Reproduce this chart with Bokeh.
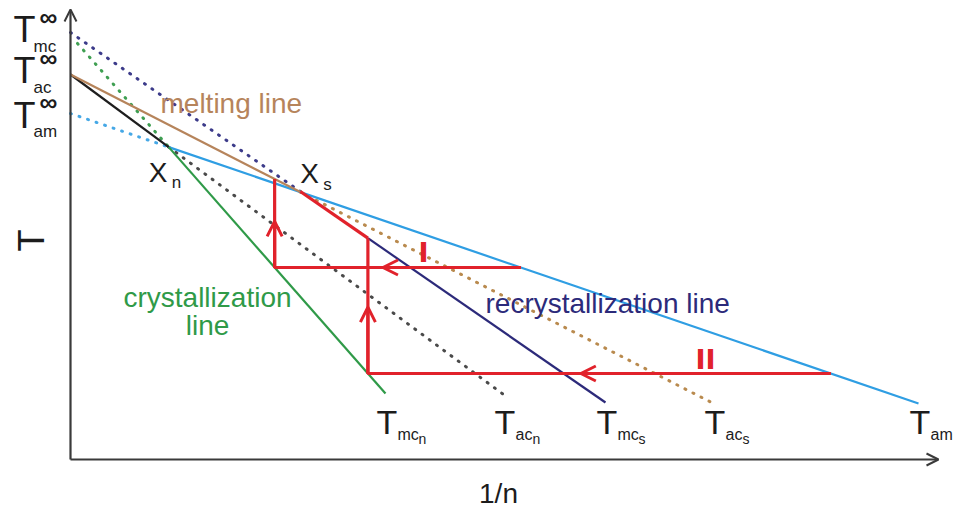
from bokeh.plotting import figure
from bokeh.models import Range1d, Arrow, OpenHead
from bokeh.core.properties import value
from bokeh.embed import file_html
from bokeh.resources import INLINE
import math

# ---------------- data (schematic units: x = 1/n, y = T) ----------------
# lines: T at 1/n = 0, and their end point on the right
line_names = ["am", "ac_n", "ac_s", "mc_s", "mc_n"]
T_at_zero = [346, 385, 385, 427, 424]
x_at_end = [848, 433, 643, 535, 315]
T_at_end = [56, 65, 56, 57, 66]

# infinite-crystal temperatures on the T axis
T_inf_subs = ["mc", "ac", "am"]
T_inf_vals = [427, 385, 346]

# end labels under the lines
end_subs = ["mc", "ac", "mc", "ac", "am"]
end_subsubs = ["n", "n", "s", "s", ""]
end_x = [315, 433, 535, 643, 848]

# isothermal process temperatures (I, II)
proc_names = ["I", "II"]
proc_T = [192, 86]

# ---------------- helpers ----------------
L = {n: (0.0, t0, x1, t1) for n, t0, x1, t1 in zip(line_names, T_at_zero, x_at_end, T_at_end)}


def T_on(name, x):
    x0, y0, x1, y1 = L[name]
    return y0 + (y1 - y0) * (x - x0) / (x1 - x0)


def x_on(name, T):
    x0, y0, x1, y1 = L[name]
    return x0 + (T - y0) * (x1 - x0) / (y1 - y0)


def cross(a, b):
    xa0, ya0, xa1, ya1 = L[a]
    xb0, yb0, xb1, yb1 = L[b]
    sa = (ya1 - ya0) / (xa1 - xa0)
    sb = (yb1 - yb0) / (xb1 - xb0)
    x = (yb0 - ya0) / (sa - sb)
    return x, ya0 + sa * x


Xn = cross("ac_n", "am")
Xs = cross("ac_s", "am")

FONT = value("Liberation Sans")
RED = "#e1222b"
BLUE = "#2f9ee3"
BROWN = "#b6845b"
BLACK = "#1e1e1e"
GREEN = "#2f9a48"
NAVY = "#2c2a7a"

p = figure(width=956, height=512, output_backend="svg", toolbar_location=None,
           x_range=Range1d(-70, 886), y_range=Range1d(-53, 459),
           x_axis_type=None, y_axis_type=None, min_border=0)
p.grid.visible = False
p.outline_line_color = None
p.background_fill_color = "white"
p.border_fill_color = "white"


def seg(xa, xb, name, color, dotted=False, width=2.2):
    xs = [xa, xb]
    ys = [T_on(name, xa), T_on(name, xb)]
    if dotted:
        p.line(xs, ys, line_color=color, line_width=3, line_dash="1 8", line_cap="round")
    else:
        p.line(xs, ys, line_color=color, line_width=width)


# dotted extrapolations
seg(0, Xs[0], "mc_s", "#3c3b8a", dotted=True)
seg(7, Xn[0], "mc_n", "#3f9f52", dotted=True)
seg(0, Xn[0], "am", "#46a8e6", dotted=True)
seg(Xn[0], x_at_end[1], "ac_n", "#4a4a4a", dotted=True)
seg(Xs[0], x_at_end[2], "ac_s", "#b98a4e", dotted=True)

# solid lines
seg(Xn[0], x_at_end[0], "am", BLUE)
seg(0, Xn[0], "ac_n", BLACK)
seg(0, Xs[0], "ac_s", BROWN)
seg(Xn[0], x_at_end[4], "mc_n", GREEN)

# process II geometry
xII_left = x_on("mc_n", proc_T[1])
TII_top = T_on("mc_s", xII_left)
seg(xII_left, x_at_end[3], "mc_s", NAVY)

# process I geometry
xI_right = x_on("am", proc_T[0])
xI_left = x_on("mc_n", proc_T[0])
TI_top = T_on("ac_s", xI_left)
xII_right = x_on("am", proc_T[1])

red_paths_x = [
    [xI_right, xI_left, xI_left],
    [xII_right, xII_left, xII_left],
    [Xs[0], xII_left],
]
red_paths_y = [
    [proc_T[0], proc_T[0], TI_top],
    [proc_T[1], proc_T[1], TII_top],
    [T_on("mc_s", Xs[0]), TII_top],
]
p.multi_line(red_paths_x, red_paths_y, line_color=RED, line_width=3.2)


def red_arrow(xa, ya, xb, yb, f):
    xe = xa + (xb - xa) * f
    ye = ya + (yb - ya) * f
    p.add_layout(Arrow(end=OpenHead(size=15, line_color=RED, line_width=3),
                       x_start=xa, y_start=ya, x_end=xe, y_end=ye,
                       line_color=RED, line_width=3.2))


red_arrow(xI_right, proc_T[0], xI_left, proc_T[0], 0.56)
red_arrow(xI_left, proc_T[0], xI_left, TI_top, 0.52)
red_arrow(xII_right, proc_T[1], xII_left, proc_T[1], 0.54)
red_arrow(xII_left, proc_T[1], xII_left, TII_top, 0.49)

# axes with arrows
AX = "#3a3a3a"
p.add_layout(Arrow(end=OpenHead(size=12, line_color=AX, line_width=2),
                   x_start=0, y_start=0, x_end=0, y_end=450, line_color=AX, line_width=2.2))
p.add_layout(Arrow(end=OpenHead(size=12, line_color=AX, line_width=2),
                   x_start=0, y_start=0, x_end=868, y_end=0, line_color=AX, line_width=2.2))

# ---------------- texts (anchored at their vertical middle) ----------------
TXT = "#1c1c1c"


def txt(x, y, t, size, color=TXT, align="left", bold=False, angle=0.0, font=FONT):
    p.text(x=x, y=y, text=t, text_font=font, text_font_size=size, text_color=color,
           text_align=align, text_baseline="middle", angle=angle,
           text_font_style="bold" if bold else "normal")


# T∞ labels on the T axis (per-row label offsets)
dy_T = [3, 4, -2]
dy_sub = [-14, -13, -18]
dy_inf = [16, 17, 12]
txt([-57] * 3, [v + d for v, d in zip(T_inf_vals, dy_T)], ["T"] * 3, "36px")
txt([-37] * 3, [v + d for v, d in zip(T_inf_vals, dy_sub)], T_inf_subs, "17px")
txt([-31] * 3, [v + d for v, d in zip(T_inf_vals, dy_inf)], ["\u221e"] * 3, "25px", bold=True)

# end labels
sub_w = {"mc": 21, "ac": 17, "am": 21}
tx = [x - 9 for x in end_x]
txt(tx, [38] * 5, ["T"] * 5, "34px")
txt([x + 21 for x in tx], [25] * 5, end_subs, "16px")
txt([x + 21 + sub_w[s] for x, s in zip(tx, end_subs)], [21] * 5, end_subsubs, "14px")

# intersection labels
txt([Xn[0] - 20, Xs[0]], [Xn[1] - 25, Xs[1] + 19], ["X", "X"], "28px")
txt([Xn[0] + 3, Xs[0] + 23], [Xn[1] - 35, Xs[1] + 8], ["n", "s"], "17px")

# line names
txt([90], [356], ["melting line"], "28px", color=BROWN)
txt([137, 137], [162, 134], ["crystallization", "line"], "28px", color=GREEN, align="center")
txt([415], [156], ["recrystallization line"], "28px", color=NAVY)

# process labels
txt([353, 635], [proc_T[0] + 15, proc_T[1] + 14], proc_names, "27px", color=RED,
    align="center", bold=True, font=value("DejaVu Sans"))

# axis titles
txt([428], [-34], ["1/n"], "28px", align="center")
txt([-39], [219], ["T"], "36px", align="center", angle=math.pi / 2)

open("out.html", "w").write(file_html(p, INLINE))
